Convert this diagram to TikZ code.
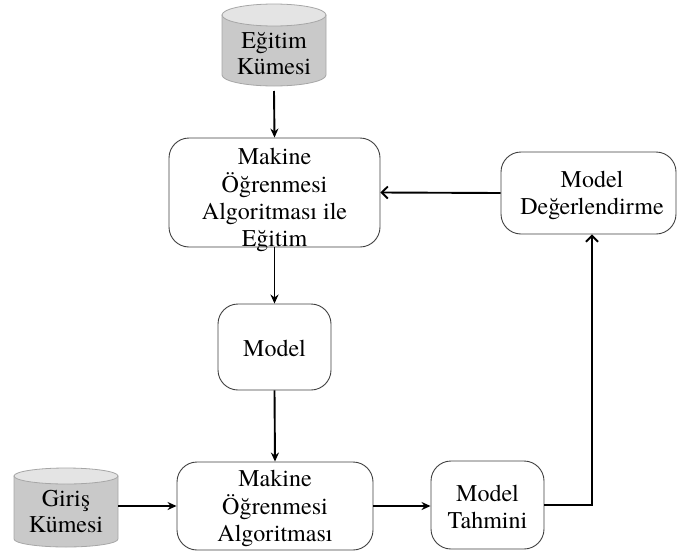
\documentclass[tikz,border=0pt]{standalone}
\usepackage{fontspec}
\setmainfont{TeX Gyre Termes}
\usetikzlibrary{arrows.meta}
\definecolor{cylbody}{HTML}{C9C9C9}
\definecolor{cyltop}{HTML}{E4E4E4}
\definecolor{cylline}{HTML}{A6A6A6}
\definecolor{boxline}{HTML}{404040}
\newcommand{\mlines}[1]{\begin{tabular}[t]{@{}c@{}}#1\end{tabular}}
\tikzset{
  procbox/.style={draw=boxline, line width=0.9pt, rounded corners=20pt, fill=white, inner sep=0pt},
  boxtext/.style={anchor=base, inner sep=0pt, font=\fontsize{24}{27}\selectfont},
  cyltext/.style={anchor=base, inner sep=0pt, font=\fontsize{24}{26}\selectfont},
  flowarrow/.style={line width=1.9pt, -{Stealth[length=9pt,width=8pt]}},
  barbarrow/.style={line width=1.9pt, -{Straight Barb[length=6pt,width=12pt,line width=1.9pt]}},
}
\newcommand{\drawcyl}[5]{% cx, top, bottom, rx, ry
  \fill[cylbody, draw=cylline, line width=0.8pt]
    (#1-#4,#2+#5) -- (#1-#4,#3-#5)
    arc[start angle=180,end angle=360,x radius=#4pt,y radius=#5pt]
    -- (#1+#4,#2+#5) -- cycle;
  \fill[cyltop, draw=cylline, line width=0.8pt] (#1,#2+#5) ellipse[x radius=#4pt,y radius=#5pt];
}
\begin{document}
\begin{tikzpicture}[x=1pt,y=-1pt]
\renewcommand{\arraystretch}{1}
\useasboundingbox (0,0) rectangle (677,557);
% cylinders
\drawcyl{274}{4}{86}{52}{11}
\drawcyl{66}{468}{547}{52}{8}
\node[cyltext] (egitim) at (274,48) {\mlines{Eğitim\\Kümesi}};
\node[cyltext] (giris) at (66,506) {\mlines{Giriş\\Kümesi}};
\coordinate (egitimbot) at (274,91);
\coordinate (girisright) at (118,506);
% boxes
\node[procbox, minimum width=211pt, minimum height=109pt] (train) at (274.5,192.5) {};
\node[boxtext] (trainlbl) at (274.5,164) {\mlines{Makine\\Öğrenmesi\\Algoritması ile\\Eğitim}};
\node[procbox, minimum width=175pt, minimum height=82pt] (eval) at (588.5,193) {};
\node[boxtext] (evallbl) at (592,187) {\mlines{Model\\Değerlendirme}};
\node[procbox, minimum width=113pt, minimum height=86pt] (model) at (274.5,347) {};
\node[boxtext] (modellbl) at (274.5,356) {Model};
\node[procbox, minimum width=196pt, minimum height=88pt] (algo) at (275,506) {};
\node[boxtext] (algolbl) at (275,486) {\mlines{Makine\\Öğrenmesi\\Algoritması}};
\node[procbox, minimum width=113pt, minimum height=88pt] (pred) at (487.5,505) {};
\node[boxtext] (predlbl) at (487.5,501) {\mlines{Model\\Tahmini}};
% connectors
\draw[flowarrow] (egitimbot) -- (train.north);
\draw[barbarrow] (eval.west) -- (train.east);
\draw[flowarrow] (train.south) -- (model.north);
\draw[flowarrow] (model.south) -- (algo.north);
\draw[flowarrow] (girisright) -- (algo.west |- girisright);
\draw[flowarrow] (algo.east) -- (pred.west |- algo.east);
\coordinate (corner) at (592,505);
\draw[barbarrow] (pred.east) -- (corner) -- (eval.south -| corner);
\end{tikzpicture}
\end{document}
